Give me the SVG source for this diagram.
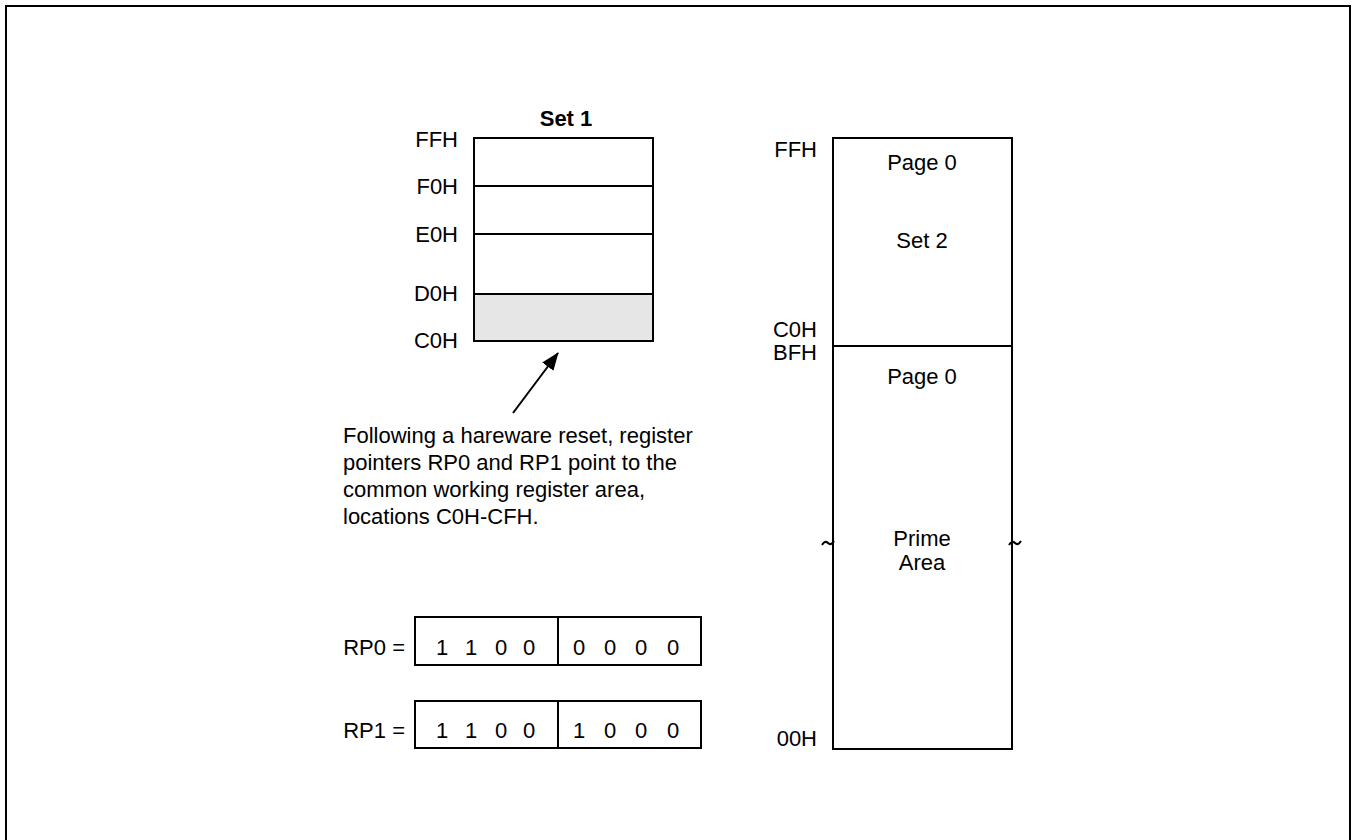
<svg xmlns="http://www.w3.org/2000/svg" width="1352" height="840" viewBox="0 0 1352 840">
<style>
  text { font-family: "Liberation Sans", Arial, sans-serif; font-size: 22px; fill: #000; }
  .r { text-anchor: end; }
  .m { text-anchor: middle; }
  .b { font-weight: bold; }
  .box { fill: #fff; stroke: #000; stroke-width: 2; }
  .ln { stroke: #000; stroke-width: 2; fill: none; }
</style>
<defs>
  <marker id="ah" markerWidth="18" markerHeight="14" refX="17" refY="7" orient="auto" markerUnits="userSpaceOnUse" viewBox="0 0 18 14">
    <path d="M0,0 L18,7 L0,14 Z" fill="#000"/>
  </marker>
</defs>
<rect width="1352" height="840" fill="#fff"/>
<rect x="6" y="6" width="1344" height="900" fill="none" stroke="#000" stroke-width="2"/>

<g id="set1">
  <text class="m b" x="566" y="126">Set 1</text>
  <rect class="box" x="474" y="138" width="179" height="203"/>
  <rect x="475" y="294" width="177" height="46" fill="#e6e6e6"/>
  <line class="ln" x1="474" y1="186" x2="653" y2="186"/>
  <line class="ln" x1="474" y1="234" x2="653" y2="234"/>
  <line class="ln" x1="474" y1="294" x2="653" y2="294"/>
  <text class="r" x="458" y="147">FFH</text>
  <text class="r" x="458" y="194">F0H</text>
  <text class="r" x="458" y="242">E0H</text>
  <text class="r" x="458" y="301">D0H</text>
  <text class="r" x="458" y="348">C0H</text>
</g>

<g id="note">
  <text x="343" y="443">Following a hareware reset, register</text>
  <text x="343" y="470">pointers RP0 and RP1 point to the</text>
  <text x="343" y="497">common working register area,</text>
  <text x="343" y="524">locations C0H-CFH.</text>
</g>

<g id="rp0">
  <text class="r" x="405" y="655">RP0 =</text>
  <rect class="box" x="415" y="617" width="286" height="48"/>
  <line class="ln" x1="558" y1="617" x2="558" y2="665"/>
  <text class="m" x="442 471 501 529" y="655">1100</text>
  <text class="m" x="579 610 641 673" y="655">0000</text>
</g>

<g id="rp1">
  <text class="r" x="405" y="738">RP1 =</text>
  <rect class="box" x="415" y="701" width="286" height="47"/>
  <line class="ln" x1="558" y1="701" x2="558" y2="748"/>
  <text class="m" x="442 471 501 529" y="738">1100</text>
  <text class="m" x="579 610 641 673" y="738">1000</text>
</g>

<g id="set2">
  <rect class="box" x="833" y="138" width="179" height="611"/>
  <line class="ln" x1="833" y1="346" x2="1012" y2="346"/>
  <text class="r" x="817" y="157">FFH</text>
  <text class="r" x="817" y="337">C0H</text>
  <text class="r" x="817" y="360">BFH</text>
  <text class="r" x="817" y="746">00H</text>
  <text class="m" x="922" y="170">Page 0</text>
  <text class="m" x="922" y="248">Set 2</text>
  <text class="m" x="922" y="384">Page 0</text>
  <text class="m" x="922" y="546">Prime</text>
  <text class="m" x="922" y="570">Area</text>
  <path class="ln" d="M822,545 q3,-5 6,-2 t6,-2" stroke-width="1.5"/>
  <path class="ln" d="M1009,545 q3,-5 6,-2 t6,-2" stroke-width="1.5"/>
</g>

<g id="connectors">
  <line x1="513" y1="413" x2="558" y2="353" stroke="#000" stroke-width="2" marker-end="url(#ah)"/>
</g>
</svg>
